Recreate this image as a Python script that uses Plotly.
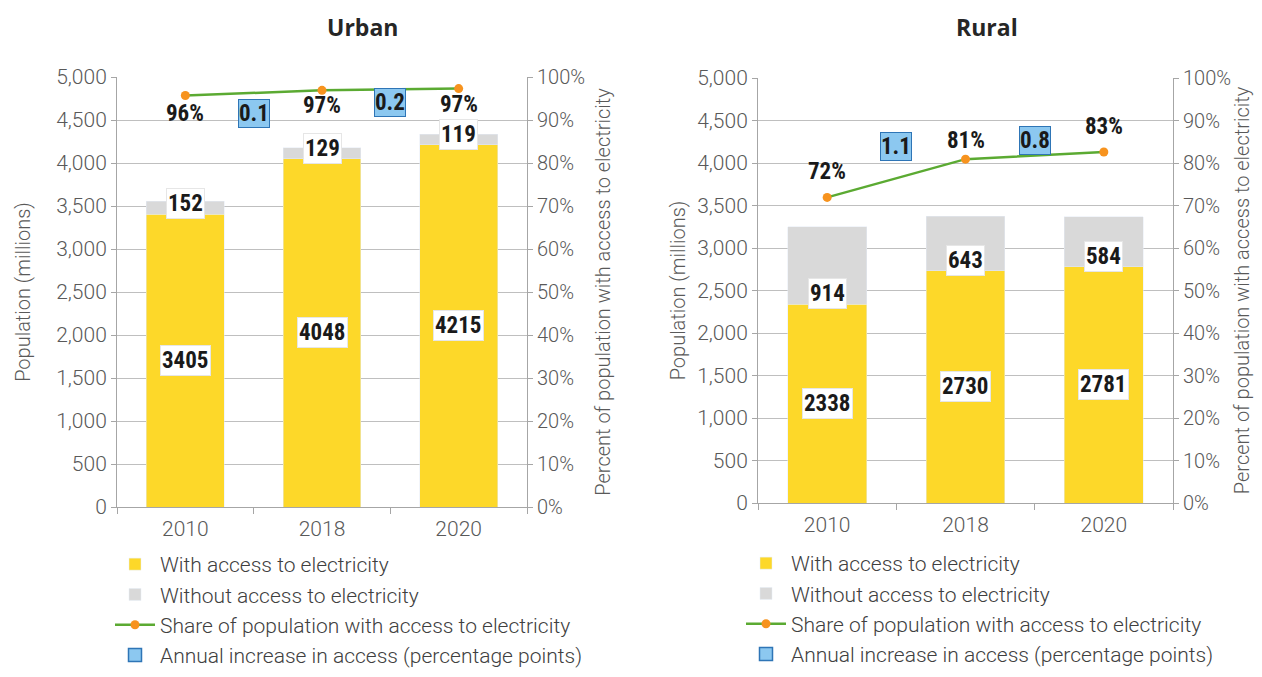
import plotly.graph_objects as go

years = ["2010", "2018", "2020"]

urban_with = [3405, 4048, 4215]
urban_without = [152, 129, 119]
urban_share = [95.7, 96.9, 97.3]
urban_share_labels = ["96%", "97%", "97%"]
urban_increase = [0.1, 0.2]

rural_with = [2338, 2730, 2781]
rural_without = [914, 643, 584]
rural_share = [71.9, 80.9, 82.6]
rural_share_labels = ["72%", "81%", "83%"]
rural_increase = [1.1, 0.8]

YELLOW = "#FDD829"
GREY = "#D9D9D9"
GREEN = "#5BAA32"
ORANGE = "#F7931E"
BLUE = "#8CC8F0"
BLUE_LINE = "#2E75B6"
TXT = "#404040"
BASE_FONT = "Roboto, sans-serif"
BOLD_FONT = "Roboto Condensed, Liberation Sans Narrow, Arial Narrow, sans-serif"

# the page body keeps an 8px margin; size the figure so the page does not overflow
W, H = 1246, 661
OFF = 8


def px_x(p):
    return (p - OFF) / W


def px_y(p):
    return 1 - (p - OFF) / H


fig = go.Figure()


def add_panel(xa, ya, ya2, legend, with_v, without_v, share, share_lbl, incr,
              pct_shift, incr_y):
    fig.add_trace(go.Bar(x=years, y=with_v, name="With access to electricity",
                         marker_color=YELLOW, width=0.57, xaxis=xa, yaxis=ya,
                         legend=legend))
    fig.add_trace(go.Bar(x=years, y=without_v, name="Without access to electricity",
                         marker_color=GREY, width=0.57, xaxis=xa, yaxis=ya,
                         legend=legend))
    fig.add_trace(go.Scatter(x=years, y=share, mode="lines+markers",
                             name="Share of population with access to electricity",
                             line=dict(color=GREEN, width=2.5),
                             marker=dict(color=ORANGE, size=9),
                             xaxis=xa, yaxis=ya2, legend=legend))
    # legend-only entry for the blue boxes
    fig.add_trace(go.Scatter(x=[years[0]], y=[None], mode="markers",
                             name="Annual increase in access (percentage points)",
                             marker=dict(symbol="square", size=13, color=BLUE,
                                         line=dict(color=BLUE_LINE, width=1.5)),
                             xaxis=xa, yaxis=ya2, legend=legend))

    box_font = dict(family=BOLD_FONT, size=23, color="#1a1a1a", weight="bold")
    for i, yr in enumerate(years):
        fig.add_annotation(x=i, y=with_v[i] / 2, xref=xa, yref=ya,
                           text=str(with_v[i]), showarrow=False, font=box_font,
                           bgcolor="white", bordercolor="#E6E6E6", borderwidth=1,
                           borderpad=1)
        fig.add_annotation(x=i, y=with_v[i], xref=xa, yref=ya, yanchor="bottom",
                           yshift=-5, text=str(without_v[i]), showarrow=False,
                           font=box_font, bgcolor="white", bordercolor="#E6E6E6",
                           borderwidth=1, borderpad=1)
        fig.add_annotation(x=i, y=share[i], xref=xa, yref=ya2,
                           yshift=pct_shift[i], text=share_lbl[i], showarrow=False,
                           font=box_font)
    for j, v in enumerate(incr):
        fig.add_annotation(x=j + 0.5, y=incr_y[j], xref=xa, yref=ya2,
                           text=str(v), showarrow=False, font=box_font,
                           bgcolor=BLUE, bordercolor=BLUE_LINE, borderwidth=1,
                           borderpad=0)


add_panel("x", "y", "y2", "legend", urban_with, urban_without, urban_share,
          urban_share_labels, urban_increase, [-18, -15, -16], [91.6, 94.0])
add_panel("x2", "y3", "y4", "legend2", rural_with, rural_without, rural_share,
          rural_share_labels, rural_increase, [26, 19, 25], [83.8, 85.2])

tick_font = dict(family=BASE_FONT, size=21, color="#595959", weight=300)
tick_font_r = dict(family=BASE_FONT, size=20, color="#595959", weight=300)
title_font = dict(family=BASE_FONT, size=20, color="#595959", weight=300)

x_common = dict(type="category", categoryorder="array", categoryarray=years,
                range=[-0.5, 2.5], automargin=False, showline=True,
                linecolor="#A6A6A6", ticks="outside", tickson="boundaries",
                tickcolor="#A6A6A6", ticklen=6, tickangle=0, ticklabelstandoff=3,
                tickfont=tick_font, showgrid=False)
y_common = dict(range=[0, 5000], dtick=500, tickformat=",", showline=True,
                automargin=False,
                linecolor="#A6A6A6", ticks="outside", tickcolor="#A6A6A6", ticklen=5,
                gridcolor="#BFBFBF", tickfont=tick_font, zeroline=False)
y2_common = dict(range=[0, 100], dtick=10, ticksuffix="%", side="right",
                 automargin=False,
                 showline=True, linecolor="#A6A6A6", ticks="outside",
                 tickcolor="#A6A6A6", ticklen=5, showgrid=False, tickfont=tick_font_r,
                 zeroline=False)
y_title = "Population (millions)"
y2_title = "Percent of population with access to electricity"

legend_common = dict(font=dict(family=BASE_FONT, size=21, color=TXT, weight=300),
                     bgcolor="rgba(0,0,0,0)", yanchor="top", xanchor="left",
                     traceorder="normal", itemwidth=40, maxheight=200)

title_font_main = dict(family="Open Sans, sans-serif", size=23, color="#262626",
                       weight="bold")
fig.add_annotation(text="Urban", x=px_x(362), y=px_y(27), xref="paper",
                   yref="paper", xanchor="center", yanchor="middle",
                   showarrow=False, font=title_font_main)
fig.add_annotation(text="Rural", x=px_x(987), y=px_y(27), xref="paper",
                   yref="paper", xanchor="center", yanchor="middle",
                   showarrow=False, font=title_font_main)

fig.update_layout(
    width=W, height=H,
    barmode="stack",
    paper_bgcolor="white", plot_bgcolor="white",
    margin=dict(l=0, r=0, t=0, b=0, autoexpand=False),
    font=dict(family=BASE_FONT, color=TXT),
    xaxis=dict(domain=[px_x(117), px_x(527)], anchor="y", **x_common),
    yaxis=dict(domain=[px_y(507), px_y(77)], anchor="x",
               title=dict(text=y_title, font=title_font, standoff=20), **y_common),
    yaxis2=dict(overlaying="y", anchor="x",
                title=dict(text=y2_title, font=title_font, standoff=11), **y2_common),
    xaxis2=dict(domain=[px_x(758), px_x(1173)], anchor="y3", **x_common),
    yaxis3=dict(domain=[px_y(503), px_y(78)], anchor="x2",
                title=dict(text=y_title, font=title_font, standoff=6), **y_common),
    yaxis4=dict(overlaying="y3", anchor="x2",
                title=dict(text=y2_title, font=title_font, standoff=10), **y2_common),
    legend=dict(x=px_x(110), y=px_y(544), **legend_common),
    legend2=dict(x=px_x(741), y=px_y(543), **legend_common),
)

fig.write_html("out.html")
